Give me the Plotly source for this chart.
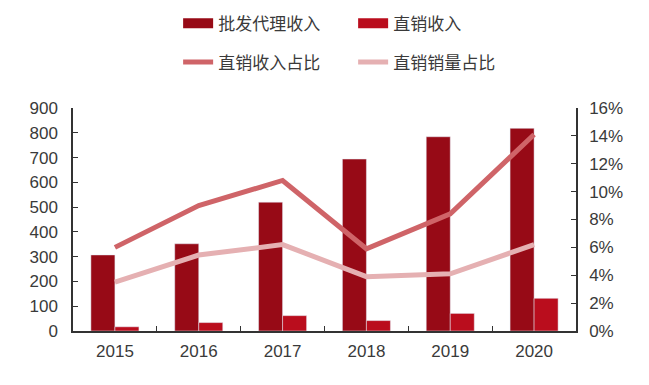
import plotly.graph_objects as go

years = ["2015", "2016", "2017", "2018", "2019", "2020"]
wholesale = [307, 352, 520, 694, 784, 818]        # 批发代理收入
direct = [17, 34, 62, 42, 71, 132]                 # 直销收入
direct_rev_share = [0.060, 0.090, 0.108, 0.059, 0.084, 0.141]   # 直销收入占比
direct_vol_share = [0.035, 0.0545, 0.062, 0.039, 0.041, 0.062]  # 直销销量占比

c_dark = "#970A16"
c_red = "#BA0D1D"
c_line1 = "#CF6468"
c_line2 = "#E5B0B2"
font_fam = "Liberation Sans, Arial, Noto Sans CJK SC, sans-serif"
txt = "#3A3A3A"

fig = go.Figure()
fig.add_trace(go.Bar(x=years, y=wholesale, name="批发代理收入", marker_color=c_dark,
                     showlegend=False))
fig.add_trace(go.Bar(x=years, y=direct, name="直销收入", marker_color=c_red,
                     showlegend=False))
fig.add_trace(go.Scatter(x=years, y=direct_rev_share, name="直销收入占比", yaxis="y2",
                         mode="lines", line=dict(color=c_line1, width=5), legend="legend2"))
fig.add_trace(go.Scatter(x=years, y=direct_vol_share, name="直销销量占比", yaxis="y2",
                         mode="lines", line=dict(color=c_line2, width=5), legend="legend2"))
# legend entries for bars (wide rectangular swatches)
fig.add_trace(go.Scatter(x=[None], y=[None], name="批发代理收入", mode="lines",
                         line=dict(color=c_dark, width=10), legend="legend"))
fig.add_trace(go.Scatter(x=[None], y=[None], name="直销收入", mode="lines",
                         line=dict(color=c_red, width=10), legend="legend"))

legend_common = dict(orientation="h", xref="paper", yref="paper", xanchor="left",
                     yanchor="middle", font=dict(family=font_fam, size=17, color=txt),
                     entrywidth=130, entrywidthmode="pixels", bgcolor="rgba(0,0,0,0)",
                     itemclick=False, itemdoubleclick=False)

fig.update_layout(
    width=649, height=385,
    margin=dict(l=65, r=81, t=100, b=62, autoexpand=False),
    plot_bgcolor="white", paper_bgcolor="white",
    barmode="group", bargap=0.427, bargroupgap=0,
    font=dict(family=font_fam, size=17, color=txt),
    legend=dict(x=0.209, y=1.378, **legend_common),
    legend2=dict(x=0.209, y=1.204, **legend_common),
    xaxis=dict(type="category", showline=True, linecolor="#333333", linewidth=1.5,
               ticks="inside", tickson="boundaries", ticklen=5, tickcolor="#333333",
               showgrid=False, tickfont=dict(size=17, color=txt), ticklabelstandoff=4),
    yaxis=dict(range=[0, 900], dtick=100, showline=True, linecolor="#333333", linewidth=1.5,
               ticks="inside", ticklen=5, tickcolor="#333333", showgrid=False, zeroline=False,
               tickfont=dict(size=17, color=txt), ticklabelstandoff=10),
    yaxis2=dict(range=[0, 0.16], dtick=0.02, tickformat=".0%", overlaying="y", side="right",
                showline=True, linecolor="#333333", linewidth=1.5, ticks="inside", ticklen=5,
                tickcolor="#333333", showgrid=False, zeroline=False,
                tickfont=dict(size=17, color=txt), ticklabelstandoff=8),
)

fig.write_html("out.html")
